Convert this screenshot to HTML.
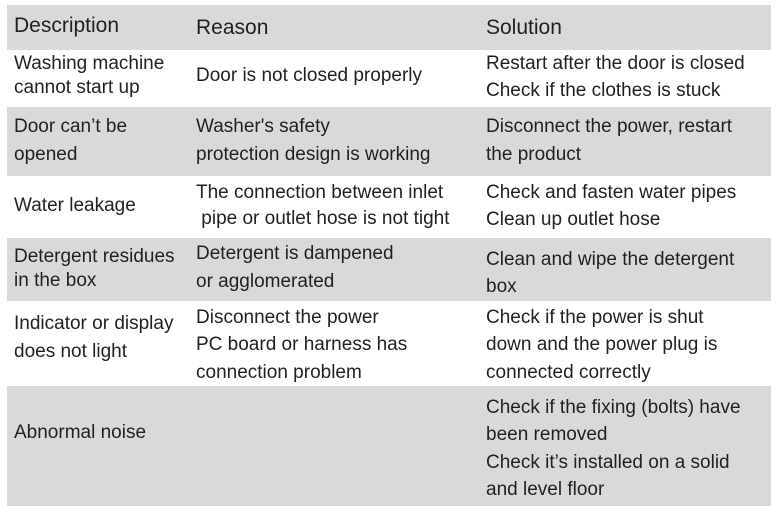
<!DOCTYPE html>
<html><head><style>
body{margin:0;width:776px;height:508px;background:#fff;position:relative;overflow:hidden;font-family:"Liberation Sans",sans-serif;color:#231f20}
.g{position:absolute;left:7px;width:764px;background:#d9d9d9}
.t{position:absolute;font-size:19px;line-height:22px;white-space:nowrap}
</style></head><body>
<div class="g" style="top:5px;height:45px"></div>
<div class="g" style="top:107px;height:69px"></div>
<div class="g" style="top:238px;height:63px"></div>
<div class="g" style="top:386px;height:120px"></div>

<div class="t" style="left:14px;top:15px;font-size:21px">Description</div>
<div class="t" style="left:196px;top:17px;font-size:21px">Reason</div>
<div class="t" style="left:486px;top:17px;font-size:21px">Solution</div>

<div class="t" style="left:14px;top:53px">Washing machine</div>
<div class="t" style="left:14px;top:77px">cannot start up</div>
<div class="t" style="left:196px;top:65px">Door is not closed properly</div>
<div class="t" style="left:486px;top:53px">Restart after the door is closed</div>
<div class="t" style="left:486px;top:80px">Check if the clothes is stuck</div>

<div class="t" style="left:14px;top:116px">Door can’t be</div>
<div class="t" style="left:14px;top:144px">opened</div>
<div class="t" style="left:196px;top:116px">Washer's safety</div>
<div class="t" style="left:196px;top:144px">protection design is working</div>
<div class="t" style="left:486px;top:116px">Disconnect the power, restart</div>
<div class="t" style="left:486px;top:144px">the product</div>

<div class="t" style="left:14px;top:195px">Water leakage</div>
<div class="t" style="left:196px;top:182px">The connection between inlet</div>
<div class="t" style="left:196px;top:208px">&nbsp;pipe or outlet hose is not tight</div>
<div class="t" style="left:486px;top:182px">Check and fasten water pipes</div>
<div class="t" style="left:486px;top:209px">Clean up outlet hose</div>

<div class="t" style="left:14px;top:246px">Detergent residues</div>
<div class="t" style="left:14px;top:270px">in the box</div>
<div class="t" style="left:196px;top:243px">Detergent is dampened</div>
<div class="t" style="left:196px;top:271px">or agglomerated</div>
<div class="t" style="left:486px;top:249px">Clean and wipe the detergent</div>
<div class="t" style="left:486px;top:276px">box</div>

<div class="t" style="left:14px;top:313px">Indicator or display</div>
<div class="t" style="left:14px;top:341px">does not light</div>
<div class="t" style="left:196px;top:307px">Disconnect the power</div>
<div class="t" style="left:196px;top:334px">PC board or harness has</div>
<div class="t" style="left:196px;top:362px">connection problem</div>
<div class="t" style="left:486px;top:307px">Check if the power is shut</div>
<div class="t" style="left:486px;top:334px">down and the power plug is</div>
<div class="t" style="left:486px;top:362px">connected correctly</div>

<div class="t" style="left:14px;top:422px">Abnormal noise</div>
<div class="t" style="left:486px;top:397px">Check if the fixing (bolts) have</div>
<div class="t" style="left:486px;top:424px">been removed</div>
<div class="t" style="left:486px;top:452px">Check it’s installed on a solid</div>
<div class="t" style="left:486px;top:479px">and level floor</div>
</body></html>
